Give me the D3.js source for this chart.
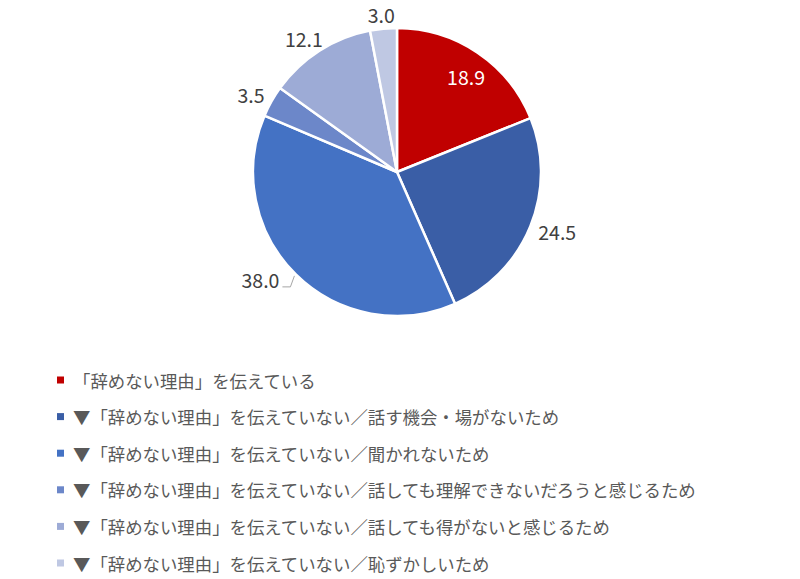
<!DOCTYPE html>
<html>
<head>
<meta charset="utf-8">
<script src="https://cdn.jsdelivr.net/npm/d3@7"></script>
<style>
  body { margin: 0; background: #fff; }
  text { font-family: "Noto Sans CJK JP", "Noto Sans", sans-serif; }
</style>
</head>
<body>
<div id="chart"></div>
<script>
// Chart size
var svgWidth = 800;
var svgHeight = 579;

// Data (percent)
var categories = [
  "「辞めない理由」を伝えている",
  "▼「辞めない理由」を伝えていない／話す機会・場がないため",
  "▼「辞めない理由」を伝えていない／聞かれないため",
  "▼「辞めない理由」を伝えていない／話しても理解できないだろうと感じるため",
  "▼「辞めない理由」を伝えていない／話しても得がないと感じるため",
  "▼「辞めない理由」を伝えていない／恥ずかしいため"
];
var values = [18.9, 24.5, 38.0, 3.5, 12.1, 3.0];
var labels = ["18.9", "24.5", "38.0", "3.5", "12.1", "3.0"];
var colors = ["#C00000", "#3A5EA6", "#4472C4", "#6C87C9", "#9DABD6", "#BFC8E3"];

// Pie geometry
var cx = 397, cy = 172, radius = 144;

var svg = d3.select("#chart")
  .append("svg")
  .attr("width", svgWidth)
  .attr("height", svgHeight);

var data = values.map((v, i) => ({ name: categories[i], value: v, label: labels[i], color: colors[i] }));

var pie = d3.pie()
  .sort(null)
  .value(d => d.value);

var arc = d3.arc()
  .innerRadius(0)
  .outerRadius(radius);

var arcs = pie(data);

var gPie = svg.append("g")
  .attr("transform", `translate(${cx},${cy})`);

gPie.selectAll("path")
  .data(arcs)
  .enter()
  .append("path")
  .attr("d", arc)
  .attr("fill", d => d.data.color)
  .attr("stroke", "#fff")
  .attr("stroke-width", 2.5)
  .attr("stroke-linejoin", "round");

// Labels: first one inside, the rest outside end; the 38.0 label is pulled out with a leader line
var fontSize = 19.5;
arcs.forEach((d, i) => {
  var a = (d.startAngle + d.endAngle) / 2;
  var sx = Math.sin(a), sy = -Math.cos(a);
  var t = gPie.append("text")
    .attr("font-size", fontSize)
    .attr("dominant-baseline", "central")
    .text(d.data.label);

  if (i === 0) {
    // inside label
    t.attr("x", sx * radius * 0.82 + 3)
      .attr("y", sy * radius * 0.82 + 2)
      .attr("text-anchor", "middle")
      .attr("fill", "#fff");
  } else if (i === 2) {
    // leader line from slice edge
    var p0 = [sx * (radius + 2), sy * (radius + 2)];
    var p1 = [p0[0] - 4, p0[1] + 11];
    var p2 = [p1[0] - 8, p1[1]];
    gPie.append("polyline")
      .attr("points", [p0, p1, p2].map(p => p.join(",")).join(" "))
      .attr("fill", "none")
      .attr("stroke", "#A6A6A6")
      .attr("stroke-width", 1);
    t.attr("x", p2[0] - 3)
      .attr("y", p2[1] - 7)
      .attr("text-anchor", "end")
      .attr("fill", "#404040");
  } else {
    // outside end: box pushed away from the rim
    var w = t.node().getComputedTextLength();
    var h = 14;
    t.attr("x", sx * (radius + 10) + sx * w / 2)
      .attr("y", sy * (radius + 7) + sy * h / 2)
      .attr("text-anchor", "middle")
      .attr("fill", "#404040");
  }
});

// Legend
var legendX = 57, legendY = 380, legendStep = 36.6;
var gLegend = svg.append("g");

var rows = gLegend.selectAll("g")
  .data(data)
  .enter()
  .append("g")
  .attr("transform", (d, i) => `translate(${legendX},${legendY + i * legendStep})`);

rows.append("rect")
  .attr("x", 0)
  .attr("y", -3.5)
  .attr("width", 7)
  .attr("height", 7)
  .attr("fill", d => d.color);

rows.append("text")
  .attr("x", 16)
  .attr("y", 0)
  .attr("dominant-baseline", "central")
  .attr("font-size", 17.4)
  .attr("fill", "#595959")
  .text(d => d.name);
</script>
</body>
</html>
